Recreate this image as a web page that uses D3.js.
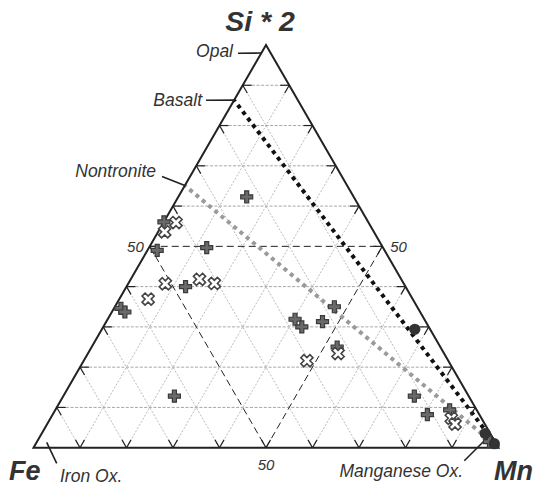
<!DOCTYPE html>
<html>
<head>
<meta charset="utf-8">
<script src="https://cdn.jsdelivr.net/npm/d3@7"></script>
<style>
  html, body { margin: 0; padding: 0; background: #fff; }
  svg { display: block; }
  text { font-family: "Liberation Sans", Arial, Helvetica, sans-serif; }
</style>
</head>
<body>
<svg id="chart" width="533" height="488"></svg>
<script>
// Compositions in percent: si (Si*2), mn, fe
const plusSamples = [
  { si: 62.3, mn: 14.7, fe: 23.0 },
  { si: 49.7, mn: 12.4, fe: 37.9 },
  { si: 56.1, mn: 0.0,  fe: 43.9 },
  { si: 49.0, mn: 2.1,  fe: 48.9 },
  { si: 40.0, mn: 12.7, fe: 47.3 },
  { si: 34.6, mn: 1.5,  fe: 63.9 },
  { si: 33.7, mn: 2.8,  fe: 63.5 },
  { si: 12.8, mn: 23.9, fe: 63.3 },
  { si: 35.0, mn: 47.2, fe: 17.8 },
  { si: 31.9, mn: 40.3, fe: 27.8 },
  { si: 30.0, mn: 42.7, fe: 27.3 },
  { si: 31.3, mn: 46.5, fe: 22.2 },
  { si: 25.0, mn: 52.8, fe: 22.2 },
  { si: 12.8, mn: 75.5, fe: 11.7 },
  { si: 8.2,  mn: 80.6, fe: 11.2 },
  { si: 9.4,  mn: 84.8, fe: 5.8 },
  { si: 6.5,  mn: 87.0, fe: 6.5 },
  { si: 1.5,  mn: 97.3, fe: 1.2 }
];
const crossSamples = [
  { si: 55.9, mn: 2.7,  fe: 41.4 },
  { si: 53.6, mn: 1.4,  fe: 45.0 },
  { si: 40.7, mn: 8.0,  fe: 51.3 },
  { si: 41.8, mn: 14.8, fe: 43.4 },
  { si: 40.8, mn: 18.5, fe: 40.7 },
  { si: 36.9, mn: 6.2,  fe: 56.9 },
  { si: 23.4, mn: 53.8, fe: 22.8 },
  { si: 21.6, mn: 48.0, fe: 30.4 },
  { si: 7.3,  mn: 86.2, fe: 6.5 },
  { si: 5.9,  mn: 87.7, fe: 6.4 }
];
const dotSamples = [
  { si: 29.4, mn: 67.3, fe: 3.3 },
  { si: 3.5,  mn: 95.4, fe: 1.1 },
  { si: 1.0,  mn: 98.6, fe: 0.4 }
];
// Reference minerals on the Fe–Si edge
const minerals = [
  { name: "Opal",       si: 98.0, mn: 0, fe: 2.0 },
  { name: "Basalt",     si: 86.3, mn: 0, fe: 13.7 },
  { name: "Nontronite", si: 65.1, mn: 0, fe: 34.9 }
];
// Mixing lines towards the Mn end-member
const mixingLines = [
  { from: "Basalt",     to: { si: 0, mn: 100, fe: 0 }, color: "#111" },
  { from: "Nontronite", to: { si: 0, mn: 100, fe: 0 }, color: "#9a9a9a" }
];
const gridValues = [10, 20, 30, 40, 50, 60, 70, 80, 90];
const axisTitles = ["Si * 2", "Fe", "Mn"];

const svg = d3.select("#chart");

// Ternary projection: x from (mn + si/2), y from si
const xScale = d3.scaleLinear().domain([0, 100]).range([33.5, 498.5]);
const yScale = d3.scaleLinear().domain([0, 100]).range([447.7, 45]);
const proj = d => [xScale(d.mn + d.si / 2), yScale(d.si)];

const vFe = proj({ si: 0, mn: 0, fe: 100 });
const vMn = proj({ si: 0, mn: 100, fe: 0 });
const vSi = proj({ si: 100, mn: 0, fe: 0 });

const line = d3.line();

// Grid lines: constant Si, constant Fe, constant Mn
const gridLines = [];
gridValues.forEach(v => {
  gridLines.push({ v, kind: "si", a: { si: v, mn: 0, fe: 100 - v }, b: { si: v, mn: 100 - v, fe: 0 } });
  gridLines.push({ v, kind: "fe", a: { fe: v, si: 100 - v, mn: 0 }, b: { fe: v, si: 0, mn: 100 - v } });
  gridLines.push({ v, kind: "mn", a: { mn: v, si: 0, fe: 100 - v }, b: { mn: v, si: 100 - v, fe: 0 } });
});

const gGrid = svg.append("g");
gGrid.selectAll("path")
  .data(gridLines.filter(g => g.v !== 50))
  .join("path")
  .attr("d", g => line([proj(g.a), proj(g.b)]))
  .attr("fill", "none")
  .attr("stroke", g => g.kind === "si" ? "#8f8f8f" : "#a8a8a8")
  .attr("stroke-width", 0.8)
  .attr("stroke-dasharray", g => g.kind === "si" ? "3,1.6" : "2,1.6");

// 50 % lines
gGrid.append("g").selectAll("path")
  .data(gridLines.filter(g => g.v === 50))
  .join("path")
  .attr("d", g => line([proj(g.a), proj(g.b)]))
  .attr("fill", "none")
  .attr("stroke", "#222")
  .attr("stroke-width", 1)
  .attr("stroke-dasharray", "7,4");

// Mixing lines
const mineralByName = Object.fromEntries(minerals.map(m => [m.name, m]));
svg.append("g").selectAll("path")
  .data(mixingLines)
  .join("path")
  .attr("d", m => line([proj(mineralByName[m.from]), proj(m.to)]))
  .attr("fill", "none")
  .attr("stroke", m => m.color)
  .attr("stroke-width", 4)
  .attr("stroke-dasharray", "4,4.2")
  .attr("stroke-dashoffset", -6);

// Triangle frame
svg.append("path")
  .attr("d", line([vFe, vMn, vSi]) + "Z")
  .attr("fill", "none")
  .attr("stroke", "#222")
  .attr("stroke-width", 2)
  .attr("stroke-linejoin", "miter");

// Edge ticks: short solid ends of each grid line
const tickLen = 9;
const ticks = [];
gridLines.forEach(g => {
  const p = proj(g.a), q = proj(g.b);
  const dx = q[0] - p[0], dy = q[1] - p[1];
  const len = Math.hypot(dx, dy);
  const ux = dx / len, uy = dy / len;
  ticks.push([p, [p[0] + ux * tickLen, p[1] + uy * tickLen]]);
  ticks.push([q, [q[0] - ux * tickLen, q[1] - uy * tickLen]]);
});
svg.append("g").selectAll("path")
  .data(ticks)
  .join("path")
  .attr("d", t => line(t))
  .attr("stroke", "#222")
  .attr("stroke-width", 1.2)
  .attr("fill", "none");

// Mineral leader lines and labels
const mineralLabel = {
  Opal:       { tx: 233, ty: 57,  lx: 238, ly: 53.3 },
  Basalt:     { tx: 202, ty: 106, lx: 206, ly: 100.3 },
  Nontronite: { tx: 156, ty: 177, lx: 162, ly: 176.5 }
};
const gMin = svg.append("g");
minerals.forEach(m => {
  const L = mineralLabel[m.name];
  const p = proj(m);
  gMin.append("path")
    .attr("d", line([[L.lx, L.ly], p]))
    .attr("stroke", "#222").attr("stroke-width", 1.6);
  gMin.append("text")
    .attr("x", L.tx).attr("y", L.ty)
    .attr("text-anchor", "end")
    .attr("font-size", 17.5).attr("font-style", "italic")
    .attr("fill", "#333")
    .text(m.name);
});

// End-member oxide labels
const oxides = [
  { name: "Iron Ox.",      tx: 60,  ty: 482, anchor: "start", line: [[46.7, 442.3], [56.7, 463.3]] },
  { name: "Manganese Ox.", tx: 463, ty: 477, anchor: "end",   line: [[464.3, 460.7], [483.3, 441.7]] }
];
oxides.forEach(o => {
  svg.append("path").attr("d", line(o.line)).attr("stroke", "#222").attr("stroke-width", 1.6);
  svg.append("text")
    .attr("x", o.tx).attr("y", o.ty)
    .attr("text-anchor", o.anchor)
    .attr("font-size", 17.5).attr("font-style", "italic")
    .attr("fill", "#333")
    .text(o.name);
});

// 50 labels on the three axes
const fifty = [
  { p: proj({ si: 50, mn: 0, fe: 50 }),  dx: -6, dy: 6,  anchor: "end" },
  { p: proj({ si: 50, mn: 50, fe: 0 }),  dx: 8,  dy: 6,  anchor: "start" },
  { p: proj({ si: 0, mn: 50, fe: 50 }),  dx: 0,  dy: 22, anchor: "middle" }
];
svg.append("g").selectAll("text")
  .data(fifty)
  .join("text")
  .attr("x", d => d.p[0] + d.dx)
  .attr("y", d => d.p[1] + d.dy)
  .attr("text-anchor", d => d.anchor)
  .attr("font-size", 15).attr("font-style", "italic")
  .attr("fill", "#333")
  .text("50");

// Axis titles
const titlePos = [
  { x: 260, y: 31, anchor: "middle", size: 28.5 },
  { x: 9,   y: 480, anchor: "start", size: 27 },
  { x: 494, y: 480, anchor: "start", size: 27 }
];
svg.append("g").selectAll("text")
  .data(axisTitles)
  .join("text")
  .attr("x", (d, i) => titlePos[i].x)
  .attr("y", (d, i) => titlePos[i].y)
  .attr("text-anchor", (d, i) => titlePos[i].anchor)
  .attr("font-size", (d, i) => titlePos[i].size)
  .attr("font-weight", "bold").attr("font-style", "italic")
  .attr("fill", "#333")
  .text(d => d);

// Sample markers
const plusPath = d3.symbol(d3.symbolCross, 80)();
const xPath = d3.symbol(d3.symbolCross, 92)();
const circlePath = d3.symbol(d3.symbolCircle, 100)();

svg.append("g").selectAll("path")
  .data(plusSamples)
  .join("path")
  .attr("d", plusPath)
  .attr("transform", d => `translate(${proj(d)})`)
  .attr("fill", "#6a6a6a")
  .attr("stroke", "#3a3a3a")
  .attr("stroke-width", 1.2);

svg.append("g").selectAll("path")
  .data(crossSamples)
  .join("path")
  .attr("d", xPath)
  .attr("transform", d => `translate(${proj(d)}) rotate(45)`)
  .attr("fill", "#fff")
  .attr("stroke", "#444")
  .attr("stroke-width", 1.6);

svg.append("g").selectAll("path")
  .data(dotSamples)
  .join("path")
  .attr("d", circlePath)
  .attr("transform", d => `translate(${proj(d)})`)
  .attr("fill", "#333");
</script>
</body>
</html>
